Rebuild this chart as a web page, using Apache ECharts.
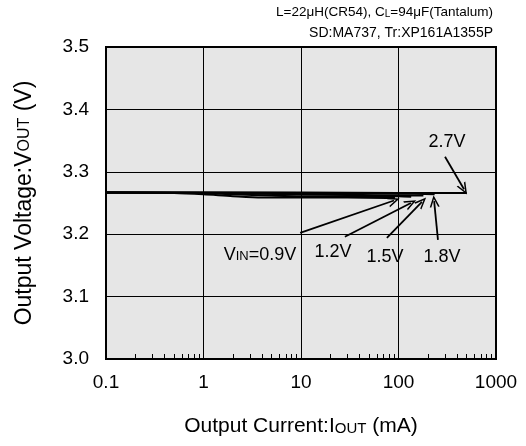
<!DOCTYPE html>
<html>
<head>
<meta charset="utf-8">
<script src="https://cdn.jsdelivr.net/npm/echarts@6/dist/echarts.min.js"></script>
<style>html,body{margin:0;padding:0;background:#fff;}#c{width:526px;height:446px;}</style>
</head>
<body>
<div id="c"></div>
<script>
// ---- data ----
const xTickLabels = ['0.1', '1', '10', '100', '1000'];
const yTickLabels = ['3.0', '3.1', '3.2', '3.3', '3.4', '3.5'];

const iout09 = [0.1, 0.5, 1, 2, 4, 10, 30, 92];
const vout09 = [3.267, 3.266, 3.264, 3.261, 3.259, 3.259, 3.259, 3.258];
const iout12 = [0.1, 1, 2, 5, 10, 30, 100, 135];
const vout12 = [3.267, 3.266, 3.264, 3.262, 3.261, 3.261, 3.261, 3.260];
const iout15 = [0.1, 1, 3, 10, 30, 100, 180];
const vout15 = [3.267, 3.266, 3.265, 3.264, 3.263, 3.262, 3.262];
const iout18 = [0.1, 1, 10, 100, 235];
const vout18 = [3.267, 3.267, 3.266, 3.265, 3.264];
const iout27 = [0.1, 1, 10, 100, 500];
const vout27 = [3.267, 3.267, 3.267, 3.266, 3.266];

// annotation labels: [text, current, voltage]
const annoLabels = [
  ['V{s|IN}=0.9V', 3.8, 3.167],
  ['1.2V', 21.3, 3.171],
  ['1.5V', 72.8, 3.163],
  ['1.8V', 279, 3.163],
  ['2.7V', 314, 3.348]
];
// arrows: [fromCurrent, fromVoltage, toCurrent, toVoltage]
const arrows = [
  [9.8, 3.202, 90, 3.254],
  [28.2, 3.196, 134, 3.250],
  [76, 3.194, 174, 3.252],
  [254, 3.191, 232, 3.253],
  [300, 3.324, 470, 3.272]
];

// minor tick values for log axis (2..9 per decade)
const minorTicks = [];
[0.1, 1, 10, 100].forEach(d => { for (let m = 2; m <= 9; m++) minorTicks.push(+(d * m).toPrecision(3)); });

const FONT = 'Liberation Sans, Arial, sans-serif';
function pairs(xs, ys) { return xs.map((x, i) => [x, ys[i]]); }

const lineBase = { type: 'line', showSymbol: false, symbol: 'none', smooth: 0.3, lineStyle: { color: '#000', width: 2 }, z: 5 };
const arrowPath = 'path://M0,10 L5,0 L10,10 L8.4,10 L5,3.2 L1.6,10 Z';

const chart = echarts.init(document.getElementById('c'), null, { renderer: 'canvas' });
chart.setOption({
  animation: false,
  backgroundColor: '#fff',
  textStyle: { fontFamily: FONT },
  grid: { left: 106, right: 30, top: 47, bottom: 87, show: true, backgroundColor: '#e6e6e6', borderColor: '#000', borderWidth: 2, z: 0 },
  xAxis: [{
    type: 'log', logBase: 10, min: 0.1, max: 1000,
    name: 'Output Current:I{s|OUT} (mA)', nameLocation: 'middle', nameGap: 57,
    nameTextStyle: { fontSize: 21, color: '#000', fontFamily: FONT, rich: { s: { fontSize: 15, color: '#000', fontFamily: FONT, verticalAlign: 'bottom', padding: [0, 0, 1, 0] } } },
    axisLine: { show: false },
    axisTick: { show: false },
    splitLine: { show: true, lineStyle: { color: '#000', width: 1 } },
    axisLabel: { fontSize: 19, color: '#000', margin: 14, fontFamily: FONT,
      formatter: v => { const i = Math.round(Math.log10(v)) + 1; return xTickLabels[i] !== undefined ? xTickLabels[i] : ''; } }
  }, {
    type: 'log', logBase: 10, min: 0.1, max: 1000, position: 'bottom',
    gridIndex: 0,
    axisLine: { show: false },
    axisLabel: { show: false },
    splitLine: { show: false },
    axisTick: { show: true, inside: true, length: 5, customValues: minorTicks, lineStyle: { color: '#000', width: 1 } }
  }],
  yAxis: {
    type: 'value', min: 3.0, max: 3.5, interval: 0.1,
    name: 'Output Voltage:V{s|OUT} (V)', nameLocation: 'middle', nameGap: 70, nameRotate: 90,
    nameTextStyle: { fontSize: 23, color: '#000', fontFamily: FONT, rich: { s: { fontSize: 16, color: '#000', fontFamily: FONT } } },
    axisLine: { show: false },
    axisTick: { show: false },
    splitLine: { show: true, lineStyle: { color: '#000', width: 1 } },
    axisLabel: { fontSize: 19, color: '#000', margin: 17, fontFamily: FONT,
      formatter: v => { const i = Math.round((v - 3.0) * 10); return yTickLabels[i] !== undefined ? yTickLabels[i] : ''; } }
  },
  graphic: [
    { type: 'text', right: 33, top: 5, z: 10, style: { text: 'L=22μH(CR54), C{s|L}=94μF(Tantalum)', font: '13.5px ' + FONT, fill: '#000',
      rich: { s: { fontSize: 10, fontFamily: FONT, fill: '#000', verticalAlign: 'bottom' } } } },
    { type: 'text', right: 33, top: 26, z: 10, style: { text: 'SD:MA737, Tr:XP161A1355P', font: '14px ' + FONT, fill: '#000' } }
  ],
  series: [
    Object.assign({}, lineBase, { name: '0.9V', data: pairs(iout09, vout09) }),
    Object.assign({}, lineBase, { name: '1.2V', data: pairs(iout12, vout12) }),
    Object.assign({}, lineBase, { name: '1.5V', data: pairs(iout15, vout15) }),
    Object.assign({}, lineBase, { name: '1.8V', data: pairs(iout18, vout18) }),
    Object.assign({}, lineBase, { name: '2.7V', data: pairs(iout27, vout27),
      markLine: {
        silent: true, animation: false,
        symbol: ['none', arrowPath], symbolSize: [10, 12],
        lineStyle: { color: '#000', width: 1.8, type: 'solid' },
        label: { show: false },
        data: arrows.map(a => [{ coord: [a[0], a[1]] }, { coord: [a[2], a[3]] }])
      },
      markPoint: {
        silent: true, animation: false,
        symbol: 'circle', symbolSize: 1, itemStyle: { color: 'rgba(0,0,0,0)' },
        label: { show: true, position: 'inside', color: '#000', fontSize: 18, fontFamily: FONT,
          rich: { s: { fontSize: 13, color: '#000', fontFamily: FONT, verticalAlign: 'bottom', padding: [0, 0, 1, 0] } } },
        data: annoLabels.map(l => ({ coord: [l[1], l[2]], value: l[0], label: { formatter: l[0] } }))
      }
    })
  ]
});
</script>
</body>
</html>
